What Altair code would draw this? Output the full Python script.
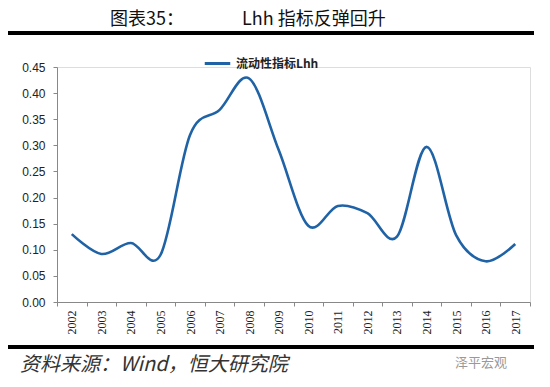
import altair as alt
import pandas as pd

years = [str(y) for y in range(2002, 2018)]
lhh = [0.130, 0.092, 0.113, 0.090, 0.320, 0.368, 0.428, 0.291, 0.146, 0.184,
       0.170, 0.125, 0.297, 0.128, 0.078, 0.111]
series_name = "流动性指标Lhh"
y_ticks = [0.0, 0.05, 0.10, 0.15, 0.20, 0.25, 0.30, 0.35, 0.40, 0.45]

title_left = "图表35："
title_right = "Lhh 指标反弹回升"
source_text = "资料来源：Wind，恒大研究院"
watermark = "泽平宏观"

df = pd.DataFrame({"year": years, "value": lhh, "series": [series_name] * len(years)})

line = alt.Chart(df).mark_line(
    interpolate="cardinal", strokeWidth=2.6
).encode(
    x=alt.X("year:O", scale=alt.Scale(type="band", paddingInner=0, paddingOuter=0),
            axis=alt.Axis(title=None, labelAngle=-90, labelFont="Liberation Serif",
                          labelFontSize=12, labelColor="#222", tickBand="extent",
                          tickSize=4, labelPadding=4, domainColor="#888",
                          tickColor="#888", labelBaseline="middle", labelAlign="right")),
    y=alt.Y("value:Q", scale=alt.Scale(domain=[0, 0.45], nice=False, zero=True),
            axis=alt.Axis(title=None, values=y_ticks, format=".2f", grid=False,
                          labelFont="Liberation Sans", labelFontSize=12,
                          labelColor="#222", tickSize=4, labelPadding=8,
                          domainColor="#888", tickColor="#888")),
    color=alt.Color("series:N", scale=alt.Scale(range=["#1f63a6"]),
                    legend=alt.Legend(title=None, orient="none", legendX=146, legendY=-18,
                                      symbolType="stroke", symbolSize=650,
                                      symbolStrokeWidth=3, labelFont="Noto Sans CJK SC",
                                      labelFontSize=12, labelFontWeight="bold",
                                      labelColor="#222", padding=0, labelOffset=4)),
)

def text_layer(txt, x, y, size, color="#111", align="left", style="normal",
               weight="normal", baseline="middle"):
    return alt.Chart(pd.DataFrame({"t": [txt]})).mark_text(
        align=align, baseline=baseline, fontSize=size, font="Noto Sans CJK SC",
        color=color, fontStyle=style, fontWeight=weight
    ).encode(text="t:N", x=alt.value(x), y=alt.value(y))

def rule_layer(y):
    return alt.Chart(pd.DataFrame({"t": [0]})).mark_rule(
        color="#000", strokeWidth=4
    ).encode(x=alt.value(-49), x2=alt.value(477), y=alt.value(y))

chart = alt.layer(
    line,
    rule_layer(-34),
    rule_layer(280),
    text_layer(title_left, 53, -38, 18, baseline="bottom"),
    text_layer(title_right, 185, -38, 18, baseline="bottom"),
    text_layer(source_text, -37, 298, 20, color="#333", style="italic"),
    text_layer(watermark, 398, 296, 13, color="#999"),
).properties(
    width=473, height=235,
    autosize=alt.AutoSizeParams(type="none"),
    padding={"left": 49, "top": 59, "right": 12, "bottom": 77},
).configure_view(stroke=None).configure(background="white")

chart.save("out.html", embed_options={"renderer": "svg", "actions": False})
